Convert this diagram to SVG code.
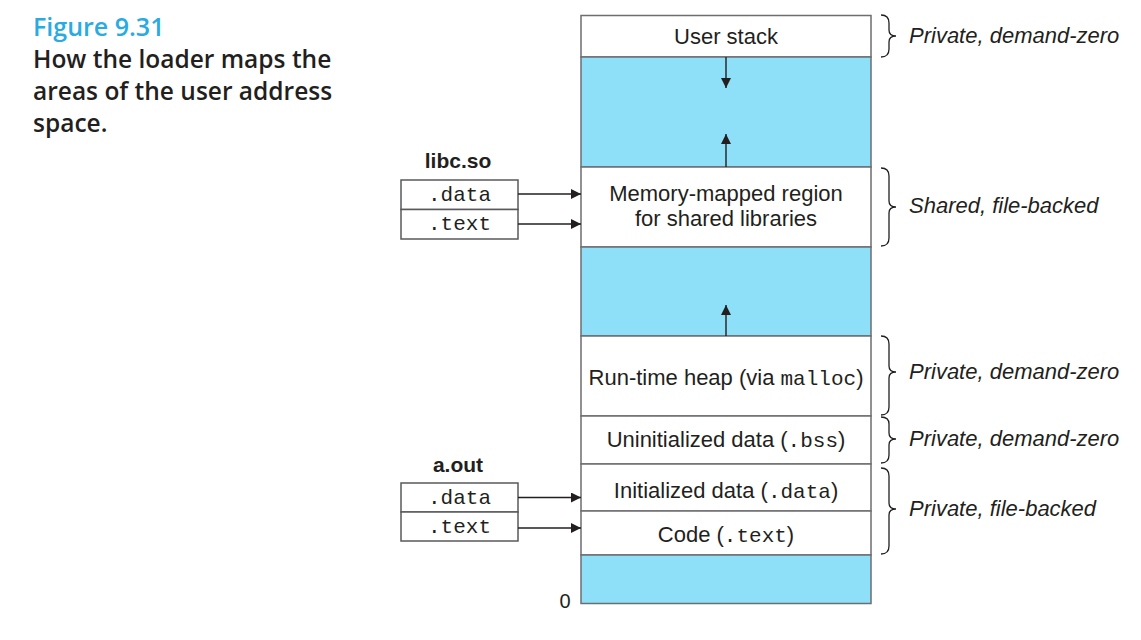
<svg xmlns="http://www.w3.org/2000/svg" width="1141" height="640" viewBox="0 0 1141 640">
  <style>
    .sans { font-family: "Liberation Sans", Arial, sans-serif; font-size: 22px; fill: #231f20; }
    .ital { font-family: "Liberation Sans", Arial, sans-serif; font-size: 22px; font-style: italic; fill: #231f20; }
    .mono { font-family: "Liberation Mono", "Courier New", monospace; font-size: 21px; fill: #231f20; }
    .bold { font-family: "Liberation Sans", Arial, sans-serif; font-size: 21px; font-weight: bold; fill: #231f20; }
    .cap  { font-family: "Open Sans", "Liberation Sans", sans-serif; font-size: 24.5px; font-weight: 600; fill: #231f20; }
    .seg  { fill: #ffffff; stroke: #6d6e71; stroke-width: 1.5; }
    .gap  { fill: #8de0f7; stroke: #6d6e71; stroke-width: 1.5; }
    .box  { fill: #ffffff; stroke: #58595b; stroke-width: 1.5; }
    .conn { stroke: #231f20; stroke-width: 1.4; fill: none; }
    .brace { stroke: #231f20; stroke-width: 1.3; fill: none; }
  </style>
  <defs>
    <marker id="tri" viewBox="0 0 10 10" refX="10" refY="5" markerWidth="10" markerHeight="10" markerUnits="userSpaceOnUse" orient="auto">
      <path d="M0,0 L10,5 L0,10 Z" fill="#231f20"/>
    </marker>
  </defs>

  <rect width="1141" height="640" fill="#ffffff"/>

  <!-- caption -->
  <g id="caption">
    <text x="33" y="36" class="cap" style="fill:#29abe2;font-size:25px">Figure 9.31</text>
    <text x="33" y="68" class="cap">How the loader maps the</text>
    <text x="33" y="100" class="cap">areas of the user address</text>
    <text x="33" y="132" class="cap">space.</text>
  </g>

  <!-- address space column -->
  <g id="user-stack">
    <rect x="581" y="15.5" width="290" height="41.5" class="seg"/>
    <text x="726" y="44" text-anchor="middle" class="sans">User stack</text>
  </g>
  <g id="gap-top">
    <rect x="581" y="57" width="290" height="110" class="gap"/>
  </g>
  <g id="mmap-region">
    <rect x="581" y="167" width="290" height="80" class="seg"/>
    <text x="726" y="201" text-anchor="middle" class="sans">Memory-mapped region</text>
    <text x="726" y="226" text-anchor="middle" class="sans">for shared libraries</text>
  </g>
  <g id="gap-mid">
    <rect x="581" y="247" width="290" height="89" class="gap"/>
  </g>
  <g id="heap">
    <rect x="581" y="336" width="290" height="80" class="seg"/>
    <text x="726" y="385" text-anchor="middle" class="sans">Run-time heap (via <tspan class="mono">malloc</tspan>)</text>
  </g>
  <g id="bss">
    <rect x="581" y="416" width="290" height="48" class="seg"/>
    <text x="726" y="447" text-anchor="middle" class="sans">Uninitialized data (<tspan class="mono">.bss</tspan>)</text>
  </g>
  <g id="data">
    <rect x="581" y="464" width="290" height="47" class="seg"/>
    <text x="726" y="498" text-anchor="middle" class="sans">Initialized data (<tspan class="mono">.data</tspan>)</text>
  </g>
  <g id="text-seg">
    <rect x="581" y="511" width="290" height="44" class="seg"/>
    <text x="726" y="542" text-anchor="middle" class="sans">Code (<tspan class="mono">.text</tspan>)</text>
  </g>
  <g id="gap-bottom">
    <rect x="581" y="555" width="290" height="48.5" class="gap"/>
    <text x="565" y="608" text-anchor="middle" class="sans" style="font-size:20px">0</text>
  </g>

  <!-- libc.so sections -->
  <g id="libc">
    <text x="458" y="168" text-anchor="middle" class="bold">libc.so</text>
    <rect x="401" y="180" width="117" height="29.5" class="box"/>
    <rect x="401" y="209.5" width="117" height="29.5" class="box"/>
    <text x="459.5" y="201" text-anchor="middle" class="mono">.data</text>
    <text x="459.5" y="230" text-anchor="middle" class="mono">.text</text>
  </g>

  <!-- a.out sections -->
  <g id="aout">
    <text x="458" y="472" text-anchor="middle" class="bold">a.out</text>
    <rect x="401" y="483" width="117" height="29" class="box"/>
    <rect x="401" y="512" width="117" height="29" class="box"/>
    <text x="459.5" y="504" text-anchor="middle" class="mono">.data</text>
    <text x="459.5" y="533" text-anchor="middle" class="mono">.text</text>
  </g>

  <!-- connectors -->
  <g id="connectors">
    <line x1="518" y1="194" x2="581" y2="194" class="conn" marker-end="url(#tri)"/>
    <line x1="518" y1="224" x2="581" y2="224" class="conn" marker-end="url(#tri)"/>
    <line x1="518" y1="497.5" x2="581" y2="497.5" class="conn" marker-end="url(#tri)"/>
    <line x1="518" y1="528" x2="581" y2="528" class="conn" marker-end="url(#tri)"/>
    <!-- growth directions -->
    <line x1="726" y1="57" x2="726" y2="88" class="conn" marker-end="url(#tri)"/>
    <line x1="726" y1="167" x2="726" y2="134" class="conn" marker-end="url(#tri)"/>
    <line x1="726" y1="336" x2="726" y2="305" class="conn" marker-end="url(#tri)"/>
  </g>

  <!-- braces and annotations -->
  <g id="annotations">
    <path class="brace" d="M881,15 Q889,15 889,23 L889,30 Q889,36 896,36 Q889,36 889,42 L889,49 Q889,57 881,57"/>
    <text x="909" y="43" class="ital">Private, demand-zero</text>

    <path class="brace" d="M881,168 Q889,168 889,176 L889,201 Q889,207 896,207 Q889,207 889,213 L889,238 Q889,246 881,246"/>
    <text x="909" y="213" class="ital">Shared, file-backed</text>

    <path class="brace" d="M881,336 Q889,336 889,344 L889,366 Q889,372 896,372 Q889,372 889,378 L889,407 Q889,415 881,415"/>
    <text x="909" y="379" class="ital">Private, demand-zero</text>

    <path class="brace" d="M881,417 Q889,417 889,424 L889,433 Q889,439 896,439 Q889,439 889,445 L889,455 Q889,463 881,463"/>
    <text x="909" y="446" class="ital">Private, demand-zero</text>

    <path class="brace" d="M881,468 Q889,468 889,476 L889,503 Q889,509 896,509 Q889,509 889,515 L889,546 Q889,554 881,554"/>
    <text x="909" y="516" class="ital">Private, file-backed</text>
  </g>
</svg>
